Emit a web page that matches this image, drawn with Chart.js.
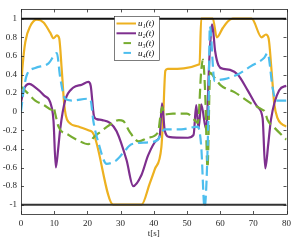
<!DOCTYPE html>
<html>
<head>
<meta charset="utf-8">
<script src="https://cdn.jsdelivr.net/npm/chart.js@4/dist/chart.umd.min.js"></script>
<style>
  html, body { margin: 0; padding: 0; background: #fff; }
</style>
</head>
<body>
<canvas id="myChart" width="295" height="242"></canvas>
<script>
// time grids and values
const tU1 = [0, 0.5, 1.3, 2.8, 4.8, 6.8, 8.8, 9.8, 10.8, 11.5, 12.3, 13, 13.5, 14.3, 17.3, 20.3, 21.5, 22.3, 27.8, 36.3, 38.8, 40.3, 42.3, 42.8, 43.5, 44.2, 53.8, 54.3, 57.8, 59, 60.8, 62.3, 63.8, 69.5, 72.5, 73.8, 74.6, 75.5, 76.3, 77.3, 78.5, 80];
const u1 = [0.25, 0.5, 0.75, 0.92, 0.99, 0.96, 0.85, 0.79, 0.82, 0.79, 0.44, 0.09, -0.04, -0.11, -0.16, -0.2, -0.22, -0.28, -1, -1, -0.77, -0.62, -0.38, -0.09, 0.44, 0.46, 0.51, 1, 1, 0.8, 0.9, 0.97, 1, 1, 0.8, 0.83, 0.79, 0.44, 0.09, -0.07, -0.13, -0.16];

const tU2 = [0, 1, 2.5, 4, 6.8, 9.3, 9.8, 10.5, 11.2, 11.8, 13.3, 15.8, 18.3, 20.3, 21, 22, 22.8, 24.5, 26.8, 28.8, 31.8, 33.8, 36.3, 38.3, 40.8, 41.8, 42.5, 43.3, 44.5, 50.3, 52, 52.8, 53.5, 54.3, 55.8, 56.8, 57.6, 58.5, 59.5, 61, 63, 65.3, 68.3, 71.3, 72.8, 73.6, 74.5, 75.3, 77.8, 80];
const u2 = [0.1, 0.25, 0.3, 0.27, 0.18, 0.04, -0.1, -0.6, -0.4, -0.19, 0.12, 0.26, 0.29, 0.32, 0.28, -0.05, -0.08, -0.09, -0.12, -0.21, -0.52, -0.8, -0.68, -0.47, -0.31, -0.26, 0.09, -0.2, -0.27, -0.28, -0.25, 0.07, -0.18, 0.08, -0.19, 0.6, 0.94, 0.65, 0.5, 0.46, 0.45, 0.4, 0.23, 0.05, -0.07, -0.61, -0.35, -0.09, 0.23, 0.28];

const tU3 = [0, 2, 4.3, 7, 9.3, 9.8, 10.3, 11.3, 14.3, 17.3, 20.3, 21.8, 23.8, 26.8, 29.5, 30.8, 32.8, 35.5, 38.3, 41.3, 42, 42.5, 43.3, 45.8, 50, 52.3, 53.3, 54.3, 54.8, 55.5, 56.2, 57, 58, 60.3, 64.3, 69.3, 72.8, 73.5, 74.3, 76.3, 80];
const u3 = [0.27, 0.2, 0.12, 0.07, 0.02, 0.05, -0.02, -0.16, -0.25, -0.31, -0.35, -0.28, -0.22, -0.14, -0.09, -0.1, -0.22, -0.32, -0.28, -0.22, -0.05, 0.05, -0.03, -0.02, -0.02, -0.09, -0.12, 0.44, 0.56, 0.2, -0.6, 0.42, 0.38, 0.28, 0.21, 0.09, 0.02, 0, -0.09, -0.17, -0.3];

const tU4 = [0, 0.8, 1.8, 4.3, 8.3, 10.8, 11.8, 13.3, 15.3, 20.3, 21, 21.8, 23.3, 25.8, 28.8, 31.3, 33.3, 38.3, 41.3, 42.3, 43.3, 48.3, 53.3, 54.3, 55.3, 56.5, 56.9, 58.3, 59.5, 61.3, 65.3, 69.3, 73.3, 74.3, 75.8, 76.8, 80];
const u4 = [0, 0.23, 0.4, 0.47, 0.52, 0.63, 0.37, 0.14, 0.12, 0.14, 0.12, -0.1, -0.33, -0.56, -0.52, -0.42, -0.35, -0.33, -0.3, -0.23, -0.19, -0.19, -0.16, -0.37, -1.03, 0, 0.92, 0.33, 0.34, 0.35, 0.4, 0.49, 0.58, 0.63, 0.26, 0.12, 0.12];

const tBound = [0, 80];
const upperBound = [1, 1];
const lowerBound = [-1, -1];

const xTicks = [0, 10, 20, 30, 40, 50, 60, 70, 80];
const yTicks = [-1, -0.8, -0.6, -0.4, -0.2, 0, 0.2, 0.4, 0.6, 0.8, 1];
const seriesLabels = ['u\u2081(t)', 'u\u2082(t)', 'u\u2083(t)', 'u\u2084(t)'];

function toXY(ts, ys) {
    return ts.map((t, i) => ({ x: t, y: ys[i] }));
}

const serif = "'Liberation Serif', 'DejaVu Serif', serif";
const axisColor = '#262626';
const dash = [10, 5];

function series(label, ts, ys, color, dashed, order) {
    return {
        label, data: toXY(ts, ys), borderColor: color, backgroundColor: color,
        borderWidth: 2.2, pointRadius: 0, cubicInterpolationMode: 'monotone',
        borderDash: dashed ? dash : [], order, isSeries: true
    };
}

// box with inward ticks on all four sides, MATLAB style
const boxPlugin = {
    id: 'box',
    afterDatasetsDraw(chart) {
        const { ctx, chartArea: a, scales } = chart;
        ctx.save();
        ctx.strokeStyle = axisColor;
        ctx.lineWidth = 0.8;
        ctx.beginPath();
        xTicks.forEach(v => {
            const px = Math.round(scales.x.getPixelForValue(v)) + 0.5;
            ctx.moveTo(px, a.bottom); ctx.lineTo(px, a.bottom - 3);
            ctx.moveTo(px, a.top); ctx.lineTo(px, a.top + 3);
        });
        yTicks.forEach(v => {
            const py = Math.round(scales.y.getPixelForValue(v)) + 0.5;
            ctx.moveTo(a.left, py); ctx.lineTo(a.left + 3, py);
            ctx.moveTo(a.right, py); ctx.lineTo(a.right - 3, py);
        });
        ctx.stroke();
        ctx.strokeRect(Math.round(a.left) + 0.5, Math.round(a.top) + 0.5,
            Math.round(a.right - a.left), Math.round(a.bottom - a.top));
        ctx.restore();
    },
    afterDraw(chart) {
        const { ctx } = chart;
        const sets = chart.data.datasets.filter(d => d.isSeries);
        const bx = 114.5, by = 16.5, bw = 45, bh = 44;
        ctx.save();
        ctx.fillStyle = '#fff';
        ctx.fillRect(bx, by, bw, bh);
        ctx.strokeStyle = axisColor;
        ctx.lineWidth = 0.6;
        ctx.strokeRect(bx, by, bw, bh);
        sets.forEach((d, i) => {
            const y = 23.5 + i * 9.8;
            ctx.strokeStyle = d.borderColor;
            ctx.lineWidth = 2;
            ctx.setLineDash([]);
            ctx.beginPath();
            if (d.borderDash.length) {
                ctx.moveTo(123.5, y); ctx.lineTo(131, y);
            } else {
                ctx.moveTo(116.5, y); ctx.lineTo(136, y);
            }
            ctx.stroke();
            ctx.fillStyle = '#000';
            ctx.font = 'italic 9px ' + serif;
            ctx.textBaseline = 'middle';
            ctx.fillText(d.label, 138, y + 0.5);
        });
        ctx.restore();
    }
};

const ctx = document.getElementById('myChart').getContext('2d');

new Chart(ctx, {
    type: 'line',
    data: {
        datasets: [
            series(seriesLabels[0], tU1, u1, '#EDB120', false, 5),
            series(seriesLabels[1], tU2, u2, '#7E2F8E', false, 4),
            series(seriesLabels[2], tU3, u3, '#77AC30', true, 3),
            series(seriesLabels[3], tU4, u4, '#4DBEEE', true, 2),
            { label: 'upper', data: toXY(tBound, upperBound), borderColor: '#111', borderWidth: 2, pointRadius: 0, order: 1 },
            { label: 'lower', data: toXY(tBound, lowerBound), borderColor: '#333', borderWidth: 2, pointRadius: 0, order: 1 }
        ]
    },
    options: {
        responsive: false,
        animation: false,
        layout: { padding: { top: 4, right: 6, left: 0, bottom: 0 } },
        plugins: { legend: { display: false }, tooltip: { enabled: false } },
        scales: {
            x: {
                type: 'linear', min: 0, max: 80,
                afterBuildTicks: s => { s.ticks = xTicks.map(v => ({ value: v })); },
                afterFit: s => { s.height = 28; },
                grid: { display: false, drawTicks: false },
                border: { display: false },
                ticks: { color: '#262626', padding: 4, maxRotation: 0, font: { family: serif, size: 9 } },
                title: { display: true, text: 't[s]', color: '#262626', padding: { top: 0, bottom: 3 }, font: { family: serif, size: 9 } }
            },
            y: {
                min: -1.1, max: 1.1,
                afterBuildTicks: s => { s.ticks = yTicks.map(v => ({ value: v })); },
                afterFit: s => { s.width = 21; },
                grid: { display: false, drawTicks: false },
                border: { display: false },
                ticks: {
                    color: '#262626', padding: 4, font: { family: serif, size: 9 },
                    callback: v => String(Math.round(v * 10) / 10)
                }
            }
        }
    },
    plugins: [boxPlugin]
});
</script>
</body>
</html>
